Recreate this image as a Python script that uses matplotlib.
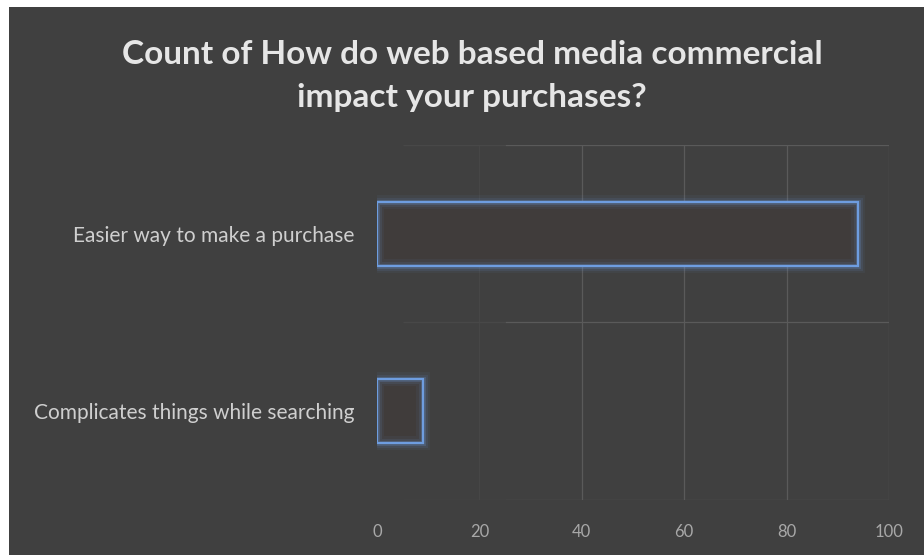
import matplotlib.pyplot as plt
from matplotlib.patches import Rectangle

plt.rcParams['font.family'] = ['Lato', 'DejaVu Sans']

# survey answers, top to bottom
answers = ["Easier way to make a purchase", "Complicates things while searching"]
counts = [94, 9]
xticks = [0, 20, 40, 60, 80, 100]

bg = "#404040"
bar_blue = "#6e9de0"

fig = plt.figure(figsize=(9.24, 5.55), dpi=100, facecolor=bg)
# thin white strip along the top and left edges
fig.patches.append(Rectangle((0, 1 - 7 / 555), 1, 7 / 555, transform=fig.transFigure,
                             facecolor="white", edgecolor="none"))
fig.patches.append(Rectangle((0, 0), 9 / 924, 1, transform=fig.transFigure,
                             facecolor="white", edgecolor="none"))

ax = fig.add_axes([0.408, 0.099, 0.554, 0.640])
ax.set_facecolor(bg)

ypos = list(range(len(answers)))
ax.set_xlim(0, 100)
ax.set_ylim(-0.5, len(answers) - 0.5)
ax.invert_yaxis()

# grid: vertical lines fade out near the left, category separators too
for x in xticks[2:]:
    ax.axvline(x, color="#5a5a5a", lw=0.9, zorder=1)
ax.axvline(20, color="#464646", lw=0.9, zorder=1)
for y in [-0.5, 0.5, 1.5]:
    ax.hlines(y, 25, 100, color="#5a5a5a", lw=0.9, zorder=1)
    ax.hlines(y, 5, 25, color="#484848", lw=0.9, zorder=1)

h = 0.36
ax.barh(ypos, counts, height=h, color="#403c3b", edgecolor="none", zorder=2)
# soft glow around the outlines
for lw, a in [(10, 0.06), (6.5, 0.10), (3.5, 0.22)]:
    ax.barh(ypos, counts, height=h, fill=False, edgecolor=bar_blue, lw=lw,
            alpha=a, zorder=3)
ax.barh(ypos, counts, height=h, fill=False, edgecolor=bar_blue, lw=1.6, zorder=4)

ax.set_yticks(ypos)
ax.set_yticklabels(answers, fontsize=15, color="#cfcfcf")
ax.set_xticks(xticks)
ax.set_xticklabels([str(v) for v in xticks], fontsize=12, color="#a8a8a8")
ax.tick_params(axis="y", length=0, pad=16)
ax.tick_params(axis="x", length=0, pad=17)
for s in ax.spines.values():
    s.set_visible(False)

fig.text(0.511, 0.863, "Count of How do web based media commercial\nimpact your purchases?",
         ha="center", va="center", fontsize=24, fontweight="bold", color="#e6e6e6",
         linespacing=1.6)

fig.savefig("out.png", dpi=100, facecolor=fig.get_facecolor())
